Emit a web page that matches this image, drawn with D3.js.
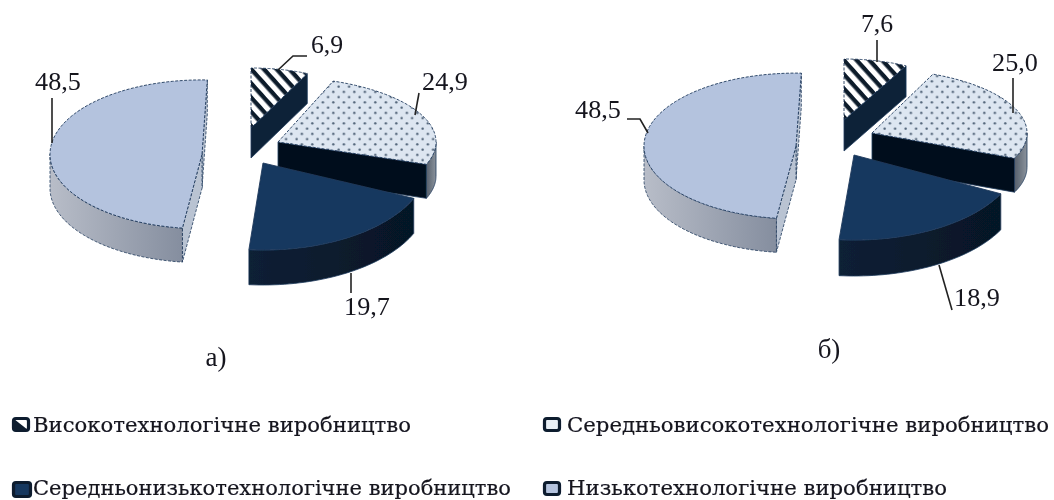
<!DOCTYPE html>
<html><head><meta charset="utf-8"><style>
html,body{margin:0;padding:0;background:#fff}
svg{display:block}
text{font-family:"Liberation Serif",serif;fill:#14141f}
</style>
<script src="https://cdn.jsdelivr.net/npm/d3@7/dist/d3.min.js"></script></head><body>
<svg id="c" width="1054" height="500"></svg>
<script>
const categories=["Високотехнологічне виробництво","Середньовисокотехнологічне виробництво","Середньонизькотехнологічне виробництво","Низькотехнологічне виробництво"];
const seriesA=[6.9,24.9,19.7,48.5];
const seriesB=[7.6,25.0,18.9,48.5];
const panelNames=["а)","б)"];
const fills=["url(#hatch)","url(#dots)","#17375e","#b4c3de"];
const faceColors=["#0b2238","#030f1c","#0a2136","#b9c3d2"];
const wallColors=[["#0a2136","#0a2136"],["#56606c","#8a929c"],["#0a2035","#061626"],["#b8bdc8","#858e9f"]];
// per-slice drawing layout: exploded apex, radii, rotation, thickness
const layoutA=[
 {cx:251,cy:128,rx:134,ry:60,turn:-2,d:30},
 {cx:278,cy:142,rx:158,ry:65,turn:-6.4,d:34},
 {cx:263,cy:163,rx:165,ry:87,turn:-2.5,d:35},
 {cx:202,cy:154.3,rx:152,ry:74.4,turn:0,d:34}];
const layoutB=[
 {cx:844,cy:120,rx:135,ry:61,turn:-2,d:31},
 {cx:872,cy:133,rx:155,ry:64,turn:-6.2,d:34},
 {cx:854,cy:155,rx:165,ry:85,turn:-2.2,d:36},
 {cx:796,cy:146,rx:152,ry:72.9,turn:0,d:34}];
const leadersA=[[[278,70],[293,56],[307,56]],[[415,115],[419,93]],[[351,273],[351,293]],[[52,143],[52,98]]];
const leadersB=[[[877,62],[877,40]],[[1013,113],[1013,78]],[[939,265],[952,310]],[[648,133],[640,119],[627,119]]];
const labelPosA=[[327,53],[445,90],[367,315],[58,90]];
const labelPosB=[[877,32],[1015,71],[977,306],[598,118]];
const panelPos=[[216,366],[829,358]];
const legendPos=[[12,417],[543,417],[12,481],[543,481]];
const legendWidths=[378,482,478,380];
const fmt=v=>d3.format(".1f")(v).replace(".",",");

const svg=d3.select("#c");
const defs=svg.append("defs");
const h=defs.append("pattern").attr("id","hatch").attr("patternUnits","userSpaceOnUse")
 .attr("width",9.5).attr("height",9.5).attr("patternTransform","rotate(48)");
h.append("rect").attr("width",9.5).attr("height",9.5).attr("fill","#fff");
h.append("rect").attr("width",9.5).attr("height",4.3).attr("fill","#0b1a2c");
const p=defs.append("pattern").attr("id","dots").attr("patternUnits","userSpaceOnUse").attr("width",10.5).attr("height",10.5);
p.append("rect").attr("width",10.5).attr("height",10.5).attr("fill","#dde6f1");
[[2.6,2.6],[7.85,7.85]].forEach(q=>p.append("circle").attr("cx",q[0]).attr("cy",q[1]).attr("r",1.25).attr("fill","#55677c"));
const soft=defs.append("filter").attr("id","soft");
soft.append("feGaussianBlur").attr("stdDeviation",0.5);

const pie=d3.pie().sort(null).startAngle(2*Math.PI/180).endAngle(362*Math.PI/180);
const line=d3.line();

function drawPanel(values,layout,id){
  const arcs=pie(values);
  const g=svg.append("g").attr("filter","url(#soft)");
  arcs.forEach((a,i)=>{
    const L=layout[i],t=L.turn*Math.PI/180,a0=a.startAngle+t,a1=a.endAngle+t;
    const P=(ang,dz=0)=>[L.cx+L.rx*Math.sin(ang),L.cy-L.ry*Math.cos(ang)+dz];
    const apex=[L.cx,L.cy],apexB=[L.cx,L.cy+L.d];
    const sg=g.append("g");
    const edge="#1f3a5c";
    const face=(ang)=>sg.append("path").attr("d",line([apex,P(ang),P(ang,L.d),apexB])+"Z")
      .attr("fill",faceColors[i]).attr("stroke",edge).attr("stroke-width",.8).attr("stroke-dasharray",i==3?"3 1.5":null);
    if(Math.sin(a1)>0) face(a1);
    if(Math.sin(a0)<0) face(a0);
    const w0=Math.max(a0,Math.PI/2),w1=Math.min(a1,1.5*Math.PI);
    if(w1>w0){
      const ang=d3.range(0,41).map(k=>w0+(w1-w0)*k/40);
      const pts=ang.map(x=>P(x)).concat(ang.slice().reverse().map(x=>P(x,L.d)));
      const gid="w"+id+i;
      const xs=pts.map(q=>q[0]);
      const lg=defs.append("linearGradient").attr("id",gid).attr("gradientUnits","userSpaceOnUse")
        .attr("x1",d3.min(xs)).attr("x2",d3.max(xs)).attr("y1",0).attr("y2",0);
      lg.append("stop").attr("offset",0).attr("stop-color",wallColors[i][0]);
      lg.append("stop").attr("offset",1).attr("stop-color",wallColors[i][1]);
      sg.append("path").attr("d",line(pts)+"Z").attr("fill",`url(#${gid})`)
        .attr("stroke",edge).attr("stroke-width",.8).attr("stroke-dasharray",i==3?"3 1.5":null);
    }
    const rim=d3.range(0,81).map(k=>P(a0+(a1-a0)*k/80));
    sg.append("path").attr("d",line([apex,...rim])+"Z")
      .attr("fill",fills[i]).attr("stroke",edge).attr("stroke-width",.9)
      .attr("stroke-dasharray",i==2?null:"3 1.5");
  });
}
function drawLabels(values,pos,leaders){
  values.forEach((v,i)=>{
    const lp=pos[i],s=fmt(v);
    svg.append("text").attr("x",lp[0]).attr("y",lp[1]).attr("text-anchor","middle").attr("font-size",25)
      .attr("textLength",13.6*(s.length-1)+5).attr("lengthAdjust","spacingAndGlyphs").attr("filter","url(#soft)").text(s);
    svg.append("path").attr("d",line(leaders[i])).attr("fill","none").attr("stroke","#222").attr("stroke-width",1.6);
  });
}
drawPanel(seriesA,layoutA,"a");
drawPanel(seriesB,layoutB,"b");
drawLabels(seriesA,labelPosA,leadersA);
drawLabels(seriesB,labelPosB,leadersB);
panelNames.forEach((n,i)=>svg.append("text").attr("x",panelPos[i][0]).attr("y",panelPos[i][1]).attr("text-anchor","middle").attr("font-size",27).attr("filter","url(#soft)").text(n));

categories.forEach((c,i)=>{
  const [x,y]=legendPos[i];
  const g=svg.append("g").attr("filter","url(#soft)");
  const big=i==2;
  g.append("rect").attr("x",x+1.5).attr("y",y+1.5).attr("width",big?17:15).attr("height",big?14:12).attr("rx",2.5)
    .attr("fill",i==2?"#17375e":i==3?"#b4c3de":i==1?"#e9eff6":"#fff").attr("stroke","#081a2e").attr("stroke-width",3.2);
  if(i==0) g.append("path").attr("d",line([[x+2,y+2],[x+16,y+13],[x+2,y+13]])+"Z").attr("fill","#081a2e");
  g.append("text").attr("x",x+(i%2?24:21)).attr("y",y+(i<2?15:13.5)).attr("font-size",21)
    .style("font-family","'DejaVu Serif',serif").style("stroke","#14141f").style("stroke-width",.2)
    .attr("textLength",legendWidths[i]).attr("lengthAdjust","spacingAndGlyphs").text(c);
});
</script></body></html>
